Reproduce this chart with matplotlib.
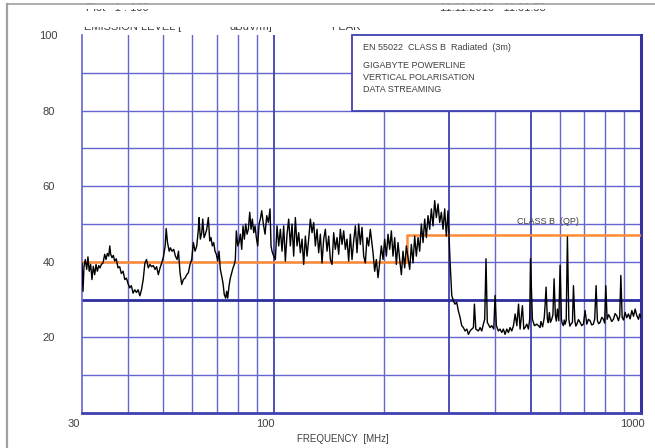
import matplotlib
matplotlib.use("Agg")
import matplotlib.pyplot as plt
from matplotlib.patches import Rectangle
from matplotlib.transforms import ScaledTranslation

plt.rcParams['font.family'] = ['Liberation Sans', 'DejaVu Sans']

# Peak scan, vertical polarisation (frequency in MHz, level in dBuV/m)
freq_mhz = [
    30.00, 30.19, 30.38, 30.63, 30.90, 31.14, 31.39, 31.67, 31.94, 32.20,
    32.49, 32.76, 33.03, 33.33, 33.59, 33.87, 34.23, 34.59, 34.88, 35.17,
    35.48, 35.71, 35.91, 36.21, 36.51, 36.83, 37.20, 37.60, 38.01, 38.39,
    38.82, 39.24, 39.64, 40.06, 40.46, 40.88, 41.33, 41.77, 42.20, 42.67,
    43.13, 43.57, 44.04, 44.52, 44.97, 45.46, 45.95, 46.42, 46.92, 47.43,
    47.91, 48.43, 48.95, 49.47, 50.00, 50.55, 50.87, 51.29, 51.84, 52.21,
    52.77, 53.33, 53.90, 54.48, 54.95, 55.48, 56.08, 56.65, 57.26, 57.87,
    58.47, 59.07, 59.71, 60.32, 60.97, 61.63, 62.25, 62.52, 63.02, 63.58,
    63.98, 64.50, 65.03, 65.61, 66.27, 66.86, 67.39, 67.94, 68.54, 69.10,
    69.67, 70.28, 70.86, 71.44, 72.07, 72.64, 73.24, 73.88, 74.35, 74.82,
    75.43, 76.07, 76.73, 77.37, 78.01, 78.50, 78.99, 79.69, 80.33, 80.99,
    81.70, 82.37, 83.06, 83.79, 84.48, 85.17, 85.92, 86.62, 87.33, 88.10,
    88.82, 89.55, 90.34, 91.08, 91.82, 92.63, 93.57, 94.58, 95.59, 96.56,
    97.58, 98.20,
    98.81, 99.85, 100.90, 101.96, 103.03, 104.11, 105.21, 106.31, 107.43, 108.56,
    109.70, 110.85, 112.02, 113.19, 114.38, 115.59, 116.80, 118.03, 119.27, 120.52,
    121.79, 123.07, 124.36, 125.67, 126.99, 128.32, 129.67, 131.03, 132.41, 133.80,
    135.21, 136.63, 138.06, 139.52, 140.98, 142.46, 143.96, 145.47, 147.00, 148.55,
    150.11, 151.69, 153.28, 154.89, 156.52, 158.16, 159.82, 161.50, 163.20, 164.91,
    166.65, 168.40, 170.17, 171.96, 173.76, 175.59, 177.43, 179.30, 181.18, 183.08,
    186.19, 188.15, 190.12, 192.12, 194.14, 196.18, 198.24, 200.32, 202.43, 204.56,
    206.71, 208.88, 211.07, 213.29, 215.53, 217.80, 220.09, 222.40, 224.74, 227.10,
    229.49, 231.90, 234.34, 236.80, 239.29, 241.80, 244.34, 246.91, 249.51, 252.13,
    254.78, 257.46, 260.16, 262.90, 265.66, 268.45, 271.27, 274.12, 277.00, 279.91,
    282.86, 285.83, 288.83, 291.87, 294.93, 298.03, 299.60, 301.90, 305.10, 308.20,
    311.40, 314.70, 317.90, 321.40, 324.80, 328.20, 331.70, 335.30, 338.80, 342.20,
    345.90, 349.50, 351.70, 354.80, 360.60, 364.40, 368.30, 372.00, 375.10, 378.20,
    381.30, 388.00, 392.10, 397.10, 400.40, 403.70, 408.80, 413.10, 417.60, 421.80,
    426.30, 430.90, 435.40, 439.90, 444.60, 449.30, 454.10, 458.90, 463.80, 468.40,
    475.30, 479.40, 483.30, 488.50, 493.50, 497.50, 500.00, 506.00, 512.40, 520.10,
    525.60, 531.00, 533.80, 536.70, 539.50, 542.20, 545.00, 547.80, 551.30, 555.80,
    559.00, 562.80, 566.50, 571.30, 575.50, 579.70, 584.50, 588.00, 591.90, 597.10,
    602.00, 607.00, 610.50, 614.60, 618.00, 621.20, 625.50, 630.30, 635.90, 640.00,
    644.00, 650.50, 654.60, 660.40, 664.50, 668.80, 675.50, 682.40, 689.50, 696.80,
    704.30, 711.80, 719.00, 726.60, 734.00, 741.80, 748.00, 754.50, 760.70, 767.00,
    773.70, 782.00, 789.90, 796.00, 801.90, 808.50, 816.00, 823.80, 832.00, 841.10,
    850.00, 859.30, 868.00, 875.00, 881.20, 888.50, 896.50, 905.40, 914.50, 924.30,
    934.00, 944.20, 954.00, 964.10, 974.40, 984.40, 992.00, 1000.00,
]
level_dbuv = [
    39.7, 32.2, 38.8, 40.6, 38.0, 41.3, 37.5, 39.3, 35.3, 38.8,
    36.6, 39.3, 37.5, 39.0, 38.4, 39.3, 39.7, 42.0, 40.6, 42.2,
    41.5, 44.2, 42.0, 41.1, 41.7, 40.2, 40.8, 38.4, 38.7, 36.9,
    37.5, 35.3, 35.7, 34.2, 33.1, 33.7, 31.7, 32.6, 31.9, 32.6,
    31.0, 32.6, 35.3, 39.7, 40.6, 38.4, 39.3, 38.7, 39.0, 38.0,
    38.7, 36.6, 38.4, 39.7, 41.3, 44.2, 48.8, 45.1, 42.8, 43.7,
    42.8, 43.3, 41.5, 40.6, 42.8, 37.1, 34.0, 35.3, 35.7, 36.6,
    37.1, 39.3, 40.6, 45.1, 42.8, 44.2, 48.6, 51.7, 46.0, 47.7,
    51.3, 46.4, 47.3, 48.6, 51.7, 45.5, 46.4, 44.2, 45.1, 42.8,
    42.0, 40.2, 42.8, 38.0, 36.2, 34.4, 31.3, 30.4, 32.2, 30.4,
    33.5, 35.7, 37.1, 38.4, 39.3, 40.6, 48.2, 44.2, 45.1, 47.3,
    43.3, 49.5, 46.0, 50.0, 47.3, 48.6, 53.1, 48.6, 51.3, 47.7,
    49.5, 46.4, 44.2, 50.0, 51.3, 53.5, 50.0, 47.3, 52.2, 50.4,
    54.0, 44.2,
    42.8, 41.5, 40.6, 49.5, 44.2, 48.6, 42.8, 49.5, 40.2, 47.3,
    51.3, 44.2, 50.0, 41.5, 51.7, 44.2, 47.7, 42.4, 46.0, 39.3,
    46.8, 41.5, 46.0, 51.3, 47.7, 50.4, 44.2, 48.6, 42.4, 47.3,
    39.7, 46.0, 48.6, 42.8, 46.8, 40.6, 39.3, 47.7, 43.3, 46.4,
    42.0, 48.6, 44.6, 48.2, 43.3, 46.0, 40.2, 47.3, 40.6, 45.5,
    49.5, 42.4, 50.0, 44.6, 49.1, 41.5, 39.7, 46.4, 44.2, 48.6,
    42.4, 37.5, 40.6, 35.8, 39.7, 44.2, 40.6, 46.0, 41.5, 47.3,
    43.3, 48.2, 41.5, 46.4, 39.3, 45.1, 40.6, 36.6, 42.8, 38.4,
    44.2, 41.1, 38.0, 44.6, 39.7, 46.8, 41.5, 46.4, 42.8, 50.0,
    45.1, 51.3, 46.4, 52.2, 48.6, 54.0, 49.5, 56.2, 51.7, 55.3,
    50.4, 53.1, 48.6, 54.0, 46.8, 53.5, 47.7, 40.0, 31.1, 29.7,
    28.8, 29.3, 27.1, 25.3, 23.1, 22.6, 21.7, 22.2, 20.8, 21.7,
    22.2, 22.6, 28.8, 22.2, 21.7, 22.6, 21.7, 23.5, 24.8, 40.8,
    24.0, 22.6, 23.1, 22.2, 31.1, 23.1, 21.7, 22.2, 21.3, 22.2,
    20.8, 22.2, 21.3, 22.6, 21.7, 23.1, 26.2, 23.1, 28.8, 22.2,
    28.4, 22.2, 22.6, 23.5, 22.2, 24.8, 40.8, 24.8, 23.1, 23.5,
    23.1, 22.6, 24.2, 23.5, 22.8, 24.0, 25.2, 28.4, 33.3, 24.8,
    23.9, 26.6, 24.0, 24.8, 26.0, 35.5, 25.7, 24.3, 27.5, 24.4,
    39.1, 24.8, 23.6, 23.1, 24.6, 23.5, 24.5, 46.6, 24.8, 23.0,
    23.5, 24.0, 33.7, 24.4, 23.0, 23.5, 24.7, 24.0, 23.1, 23.5,
    27.1, 23.5, 24.8, 24.4, 23.3, 23.5, 24.9, 33.7, 24.4, 23.6,
    24.0, 25.3, 24.8, 23.8, 33.7, 24.8, 26.0, 25.3, 24.2, 24.8,
    26.3, 25.7, 24.4, 25.6, 36.4, 25.3, 24.6, 26.6, 25.2, 26.2,
    24.9, 27.1, 25.6, 27.5, 25.7, 24.8, 26.2, 25.3,
]

# EN 55022 class B quasi-peak limit (3 m)
limit_freq = [30, 230, 230, 1000]
limit_level = [40, 40, 47, 47]

x_ticks = [30, 100, 1000]
x_tick_labels = ["30", "100", "1000"]
y_ticks = [20, 40, 60, 80, 100]
h_grid = [10, 20, 40, 50, 60, 70, 80, 90]
h_grid_major = [30]
v_grid_minor = [40, 50, 60, 70, 80, 90, 200, 400, 600, 700, 800, 900]
v_grid_major = [100, 300, 500]

info_lines = ["GIGABYTE POWERLINE", "VERTICAL POLARISATION", "DATA STREAMING"]

W, H = 655, 448
GRID = '#6565cf'
GRID_DARK = '#4040b0'
TEXT = '#404040'
ORANGE = '#ff8a33'


def fxy(x, y):
    return x / W, 1 - y / H


fig = plt.figure(figsize=(W / 100, H / 100), dpi=100)
ax = fig.add_axes([82 / W, 1 - 413 / H, (641 - 82) / W, (413 - 35) / H])
ax.set_xscale('log')
ax.set_xlim(30, 1000)
ax.set_ylim(0, 100)

for y in h_grid:
    ax.axhline(y, color=GRID, lw=1.0, zorder=1)
for y in h_grid_major:
    ax.axhline(y, color='#2e2e9e', lw=2.0, zorder=1.2)
for x in v_grid_minor:
    ax.axvline(x, color=GRID, lw=1.0, zorder=1)
for x in v_grid_major:
    ax.axvline(x, color=GRID_DARK, lw=1.3, zorder=1.1)

ax.spines['top'].set_visible(False)
ax.spines['left'].set_color(GRID)
ax.spines['left'].set_linewidth(1.2)
ax.spines['bottom'].set_color(GRID_DARK)
ax.spines['bottom'].set_linewidth(2.0)
ax.spines['right'].set_color('#34349f')
ax.spines['right'].set_linewidth(2.2)

# text box in the upper right corner
box = Rectangle((163, 80), 1000 - 163, 20, transform=ax.transData,
                facecolor='white', edgecolor=GRID_DARK, lw=1.3,
                zorder=2.5, clip_on=False)
ax.add_patch(box)

ax.plot(limit_freq, limit_level, color=ORANGE, lw=1.8, zorder=3)
ax.plot(freq_mhz, level_dbuv, color='black', lw=1.0, zorder=4)

ax.text(460, 50.7, "CLASS B  (QP)", fontsize=6.5, color=TEXT,
        va='center', ha='left', zorder=5)

ax.set_xticks(x_ticks)
ax.set_xticklabels(x_tick_labels)
ax.xaxis.set_minor_locator(matplotlib.ticker.NullLocator())
ax.set_yticks(y_ticks)
ax.tick_params(axis='both', length=0, labelsize=8, labelcolor=TEXT)
ax.tick_params(axis='x', pad=4)
ax.tick_params(axis='y', pad=24)
for lab in ax.get_yticklabels():
    lab.set_horizontalalignment('center')
for lab in ax.get_xticklabels():
    lab.set_transform(lab.get_transform() +
                      ScaledTranslation(-6 / 72, 0, fig.dpi_scale_trans))

fig.text(*fxy(343, 439), "FREQUENCY  [MHz]", fontsize=7, color=TEXT,
         ha='center', va='center')

fig.text(*fxy(363, 47), "EN 55022  CLASS B  Radiated  (3m)", fontsize=6.5,
         color=TEXT, ha='left', va='center')
for i, line in enumerate(info_lines):
    fig.text(*fxy(363, 65 + 12 * i), line, fontsize=6.5, color=TEXT,
             ha='left', va='center')

# header row above the plot area
fig.text(*fxy(84, 30), "EMISSION LEVEL [", fontsize=8, color=TEXT,
         ha='left', va='baseline')
fig.text(*fxy(229, 30), "dBuV/m]", fontsize=8, color=TEXT,
         ha='left', va='baseline')
fig.text(*fxy(331, 30), "PEAK", fontsize=8, color=TEXT,
         ha='left', va='baseline')
fig.text(*fxy(86, 11), "Plot   1 : 100", fontsize=8, color=TEXT,
         ha='left', va='baseline')
fig.text(*fxy(440, 11), "11.11.2010   11:01:58", fontsize=8, color=TEXT,
         ha='left', va='baseline')

# page frame and masked strips over the header text
fig.patches.append(Rectangle(fxy(7, 26.6), 640 / W, 13 / H,
                             transform=fig.transFigure, facecolor='white',
                             edgecolor='none', zorder=10))
fig.patches.append(Rectangle(fxy(7, 8.8), 640 / W, 4.5 / H,
                             transform=fig.transFigure, facecolor='white',
                             edgecolor='none', zorder=10))
fig.add_artist(plt.Line2D([7 / W, 7 / W], [0, 1 - 4 / H], color='#a0a0a0',
                          lw=1.6, transform=fig.transFigure, zorder=11))
fig.add_artist(plt.Line2D([7 / W, 1], [1 - 4 / H, 1 - 4 / H], color='#a0a0a0',
                          lw=1.2, transform=fig.transFigure, zorder=11))

fig.savefig("out.png", dpi=100, facecolor='white')
